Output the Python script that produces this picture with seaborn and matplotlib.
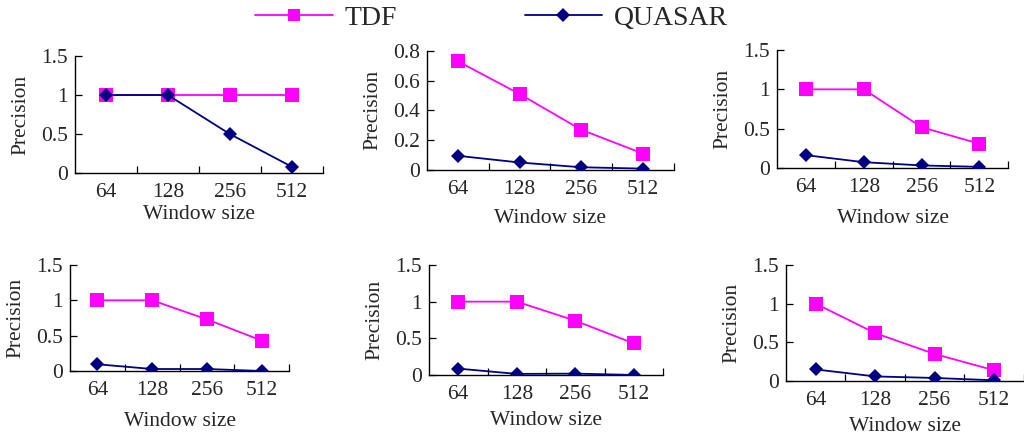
import matplotlib
matplotlib.use("Agg")
import matplotlib.pyplot as plt
from matplotlib.lines import Line2D
import seaborn as sns
import pandas as pd

sns.set_style("white")
plt.rcParams["font.family"] = ["Liberation Serif", "DejaVu Serif"]

window_sizes = ["64", "128", "256", "512"]
methods = ["TDF", "QUASAR"]

tdf_values = [
    [1.0, 1.0, 1.0, 1.0],
    [0.73, 0.51, 0.27, 0.11],
    [1.0, 1.0, 0.52, 0.31],
    [1.0, 1.0, 0.73, 0.43],
    [1.0, 1.0, 0.74, 0.43],
    [1.0, 0.62, 0.35, 0.14],
]
quasar_values = [
    [1.0, 1.0, 0.5, 0.08],
    [0.095, 0.05, 0.018, 0.009],
    [0.165, 0.076, 0.035, 0.017],
    [0.095, 0.028, 0.028, 0.0],
    [0.086, 0.014, 0.018, 0.0],
    [0.15, 0.06, 0.04, 0.01],
]
y_limits = [1.5, 0.8, 1.5, 1.5, 1.5, 1.5]
y_ticks = [
    [0, 0.5, 1, 1.5],
    [0, 0.2, 0.4, 0.6, 0.8],
    [0, 0.5, 1, 1.5],
    [0, 0.5, 1, 1.5],
    [0, 0.5, 1, 1.5],
    [0, 0.5, 1, 1.5],
]
y_tick_labels = [
    ["0", "0.5", "1", "1.5"],
    ["0", "0.2", "0.4", "0.6", "0.8"],
    ["0", "0.5", "1", "1.5"],
    ["0", "0.5", "1", "1.5"],
    ["0", "0.5", "1", "1.5"],
    ["0", "0.5", "1", "1.5"],
]

# axes rectangles [left, bottom, width, height] in figure fractions
panel_boxes = [
    [0.0732, 0.605, 0.242, 0.267],
    [0.417, 0.612, 0.241, 0.272],
    [0.759, 0.616, 0.2256, 0.270],
    [0.0684, 0.153, 0.214, 0.242],
    [0.419, 0.144, 0.2285, 0.251],
    [0.7676, 0.130, 0.232, 0.265],
]
x_label_pads = [2.5, 7.5, 9.0, 9.0, 5.5, 5.0]

colors = {"TDF": "#FF00FF", "QUASAR": "#000080"}
markers = {"TDF": "s", "QUASAR": "D"}
marker_sizes = {"TDF": 9.5, "QUASAR": 7.3}
FS = 15.5

fig = plt.figure(figsize=(10.24, 4.38), dpi=100)

for i in range(6):
    ax = fig.add_axes(panel_boxes[i])
    df = pd.DataFrame({
        "Window size": window_sizes * 2,
        "Precision": tdf_values[i] + quasar_values[i],
        "Method": ["TDF"] * 4 + ["QUASAR"] * 4,
    })
    for m in methods:
        sub = df[df["Method"] == m]
        sns.lineplot(data=sub, x="Window size", y="Precision", ax=ax,
                     color=colors[m], marker=markers[m],
                     markersize=marker_sizes[m], markeredgewidth=0,
                     linewidth=1.3, legend=False, zorder=3 if m == "TDF" else 4)
    ax.set_xlim(-0.5, 3.5)
    ax.set_ylim(0, y_limits[i])
    ax.set_yticks(y_ticks[i])
    ax.set_yticklabels(y_tick_labels[i])
    ax.set_xticks(range(4))
    ax.set_xticklabels(window_sizes)
    ax.set_xticks([0.5, 1.5, 2.5, 3.5], minor=True)
    ax.tick_params(axis="x", which="major", length=0, labelsize=FS, pad=7)
    ax.tick_params(axis="x", which="minor", direction="in", length=5,
                   width=0.9, color="black", bottom=True)
    ax.tick_params(axis="y", direction="in", length=5, width=0.9,
                   color="black", labelsize=FS, pad=5, left=True)
    ax.set_xlabel("Window size", fontsize=FS, labelpad=x_label_pads[i])
    ax.set_ylabel("Precision", fontsize=FS, labelpad=8)
    for side in ["top", "right"]:
        ax.spines[side].set_visible(False)
    for side in ["left", "bottom"]:
        ax.spines[side].set_color("black")
        ax.spines[side].set_linewidth(1.0)
    ax.patch.set_alpha(0)

handles = [
    Line2D([], [], color=colors[m], marker=markers[m],
           markersize=marker_sizes[m] - 0.5, markeredgewidth=0, linewidth=1.3)
    for m in methods
]
fig.legend(handles, methods, loc="upper center", bbox_to_anchor=(0.48, 1.045),
           ncol=2, frameon=False, fontsize=20, handlelength=2.8,
           columnspacing=4.6, handletextpad=0.4)

fig.savefig("out.png", dpi=100)
